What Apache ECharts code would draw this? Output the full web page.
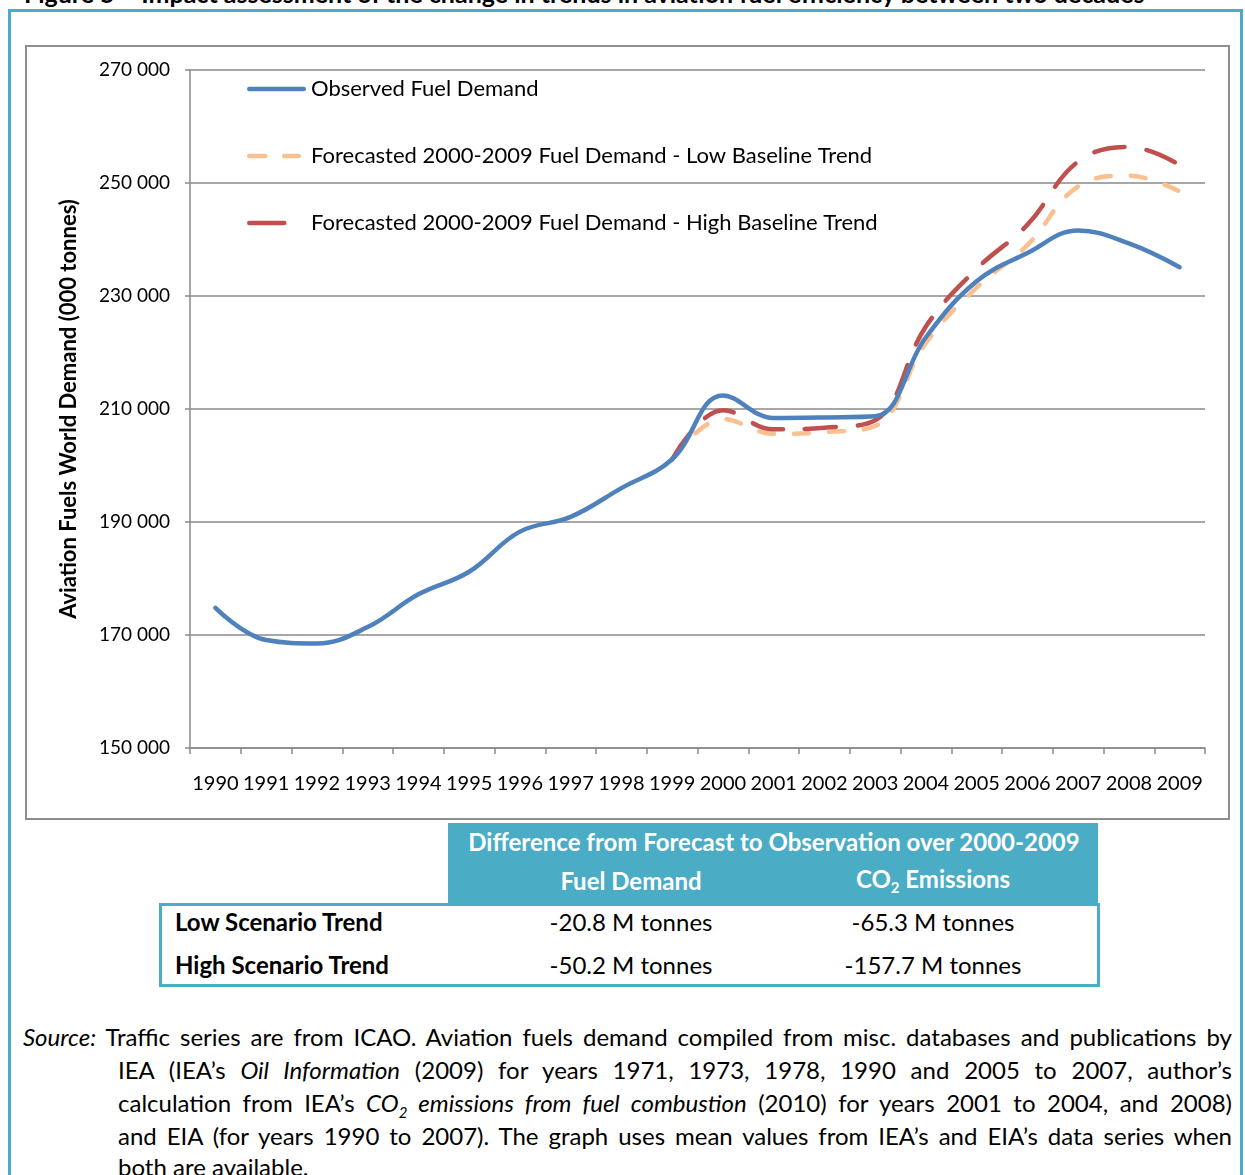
<!DOCTYPE html>
<html>
<head>
<meta charset="utf-8">
<title>Aviation fuels world demand</title>
<script src="https://cdn.jsdelivr.net/npm/echarts@6/dist/echarts.min.js"></script>
<style>
  body { margin: 0; background: #fff; font-family: Lato, "Open Sans", sans-serif; color: #000; }
  #page { position: relative; width: 1245px; height: 1175px; overflow: hidden; }
  .abs { position: absolute; }
  #frame { left: 8px; top: 9px; width: 1235px; height: 1220px; border: 3px solid #4BACC6; box-sizing: border-box; }
  #title { left: 24px; top: -19px; font-weight: bold; font-size: 25px; line-height: 24px; white-space: nowrap; }
  #chartBox { left: 25px; top: 45px; width: 1205px; height: 775px; border: 2px solid #8e8e8e; box-sizing: border-box; }
  #chart { left: 0; top: 0; width: 1245px; height: 830px; }
  #thead { left: 448px; top: 823px; width: 650px; height: 80px; background: #4BACC6; color: #fff; font-weight: bold; font-size: 24px; }
  #tbody { left: 159px; top: 903px; width: 941px; height: 84px; border: 3px solid #4BACC6; box-sizing: border-box; font-size: 24px; }
  .cell { position: absolute; white-space: nowrap; transform: translate(-50%, -50%); }
  .rowlab { position: absolute; font-weight: bold; white-space: nowrap; transform: translateY(-50%); }
  .src { position: absolute; font-size: 24px; line-height: 33px; white-space: nowrap; text-align: justify; text-align-last: justify; }
</style>
</head>
<body>
<div id="page">
  <div id="frame" class="abs"></div>
  <div id="title" class="abs">Figure 5 – Impact assessment of the change in trends in aviation fuel efficiency between two decades</div>
  <div id="chartBox" class="abs"></div>
  <div id="chart" class="abs"></div>

  <div id="thead" class="abs">
    <div class="cell" style="left:326px; top:18px;">Difference from Forecast to Observation over 2000-2009</div>
    <div class="cell" style="left:183px; top:57px;">Fuel Demand</div>
    <div class="cell" style="left:485px; top:57px;">CO<sub style="font-size:15px;">2</sub> Emissions</div>
  </div>
  <div id="tbody" class="abs">
    <div class="rowlab" style="left:13px; top:15px;">Low Scenario Trend</div>
    <div class="cell" style="left:469px; top:15px;">-20.8 M tonnes</div>
    <div class="cell" style="left:771px; top:15px;">-65.3 M tonnes</div>
    <div class="rowlab" style="left:13px; top:58px;">High Scenario Trend</div>
    <div class="cell" style="left:469px; top:58px;">-50.2 M tonnes</div>
    <div class="cell" style="left:771px; top:58px;">-157.7 M tonnes</div>
  </div>

  <div class="src" style="left:23px; top:1020px; width:1209px;"><i>Source:</i> Traffic series are from ICAO. Aviation fuels demand compiled from misc. databases and publications by</div>
  <div class="src" style="left:118px; top:1053px; width:1114px;">IEA (IEA’s <i>Oil Information</i> (2009) for years 1971, 1973, 1978, 1990 and 2005 to 2007, author’s</div>
  <div class="src" style="left:118px; top:1086px; width:1114px;">calculation from IEA’s <i>CO<sub style="font-size:15px;">2</sub> emissions from fuel combustion</i> (2010) for years 2001 to 2004, and 2008)</div>
  <div class="src" style="left:118px; top:1119px; width:1114px;">and EIA (for years 1990 to 2007). The graph uses mean values from IEA’s and EIA’s data series when</div>
  <div class="src" style="left:118px; top:1150px; width:400px; text-align-last:left;">both are available.</div>
</div>

<script>
// shrink a justified source line if it would not fit on one line
document.querySelectorAll('.src').forEach(function (el) {
  var size = 24;
  while (el.scrollWidth > el.clientWidth + 1 && size > 16) {
    size -= 0.5;
    el.style.fontSize = size + 'px';
  }
});

// years on the category axis
var years = ['1990','1991','1992','1993','1994','1995','1996','1997','1998','1999',
             '2000','2001','2002','2003','2004','2005','2006','2007','2008','2009'];

// observed world aviation fuel demand (000 tonnes)
var observed = [174800, 169100, 168500, 171400, 177200, 181200, 188300, 190900, 196000, 201100,
                212400, 208400, 208500, 208700, 222700, 232600, 237600, 241600, 239300, 235100];

// forecasts 2000-2009, anchored at 1999
var lowTrend = [null, null, null, null, null, null, null, null, null, 201100,
                208200, 205600, 205900, 207000, 221700, 231500, 239000, 249400, 251300, 248500];
var highTrend = [null, null, null, null, null, null, null, null, null, 201100,
                 209800, 206400, 206700, 208000, 224600, 234800, 242600, 253800, 256400, 253200];

var seriesNames = ['Observed Fuel Demand',
                   'Forecasted 2000-2009 Fuel Demand - Low Baseline Trend',
                   'Forecasted 2000-2009 Fuel Demand - High Baseline Trend'];

var font = 'Lato, "Open Sans", sans-serif';
var gridColor = '#8a8a8a';

// legend swatches: rounded bars, last sub-path only fixes the box width to 59
function bar(x0, x1) {
  return 'M' + (x0 + 2.25) + ',0H' + (x1 - 2.25) + 'A2.25,2.25,0,0,1,' + (x1 - 2.25) + ',4.5H' +
         (x0 + 2.25) + 'A2.25,2.25,0,0,1,' + (x0 + 2.25) + ',0Z';
}
var solidIcon = 'path://' + bar(0, 59);
var dashIcon = 'path://' + bar(0, 20.5) + bar(35, 54) + 'M59,0L59,4.5Z';
var longDashIcon = 'path://' + bar(0, 39.5) + 'M59,0L59,4.5Z';

var myChart = echarts.init(document.getElementById('chart'));

var option = {
  animation: false,
  textStyle: { fontFamily: font },
  grid: { left: 190, right: 40, top: 70, bottom: 82 },
  legend: {
    orient: 'vertical',
    left: 247,
    top: 77,
    padding: 0,
    itemWidth: 59,
    itemHeight: 4.5,
    itemGap: 43,
    itemStyle: { borderWidth: 0 },
    textStyle: { fontSize: 22, color: '#000', fontFamily: font, lineHeight: 24 },
    data: [
      { name: seriesNames[0], icon: solidIcon },
      { name: seriesNames[1], icon: dashIcon },
      { name: seriesNames[2], icon: longDashIcon }
    ]
  },
  xAxis: {
    type: 'category',
    data: years,
    boundaryGap: true,
    axisLine: { lineStyle: { color: gridColor, width: 1.5 } },
    axisTick: { show: true, interval: 0, length: 6, lineStyle: { color: gridColor, width: 1.5 } },
    axisLabel: { interval: 0, color: '#000', fontSize: 20, margin: 26, fontFamily: font }
  },
  yAxis: {
    type: 'value',
    min: 150000,
    max: 270000,
    interval: 20000,
    name: 'Aviation Fuels World Demand (000 tonnes)',
    nameLocation: 'middle',
    nameGap: 110,
    nameTextStyle: { fontSize: 22, fontWeight: 'bold', color: '#000', fontFamily: font },
    axisLine: { show: true, lineStyle: { color: gridColor, width: 1.5 } },
    axisTick: { show: true, length: 5, lineStyle: { color: gridColor, width: 1.5 } },
    axisLabel: {
      color: '#000', fontSize: 19, margin: 20, fontFamily: font,
      formatter: function (v) { return (v / 1000) + ' 000'; }
    },
    splitLine: { lineStyle: { color: gridColor, width: 1.5 } }
  },
  series: [
    {
      name: seriesNames[0],
      type: 'line',
      data: observed,
      smooth: 0.4,
      symbol: 'none',
      z: 3,
      lineStyle: { color: '#4F81BD', width: 4.5, cap: 'round', join: 'round' },
      itemStyle: { color: '#4F81BD' }
    },
    {
      name: seriesNames[1],
      type: 'line',
      data: lowTrend,
      smooth: 0.4,
      symbol: 'none',
      z: 2,
      lineStyle: { color: '#FAC090', width: 4.5, type: [15, 20], cap: 'round' },
      itemStyle: { color: '#FAC090' }
    },
    {
      name: seriesNames[2],
      type: 'line',
      data: highTrend,
      smooth: 0.4,
      symbol: 'none',
      z: 2,
      lineStyle: { color: '#C0504D', width: 4.5, type: [31, 22], cap: 'round' },
      itemStyle: { color: '#C0504D' }
    }
  ]
};

myChart.setOption(option);
</script>
</body>
</html>
